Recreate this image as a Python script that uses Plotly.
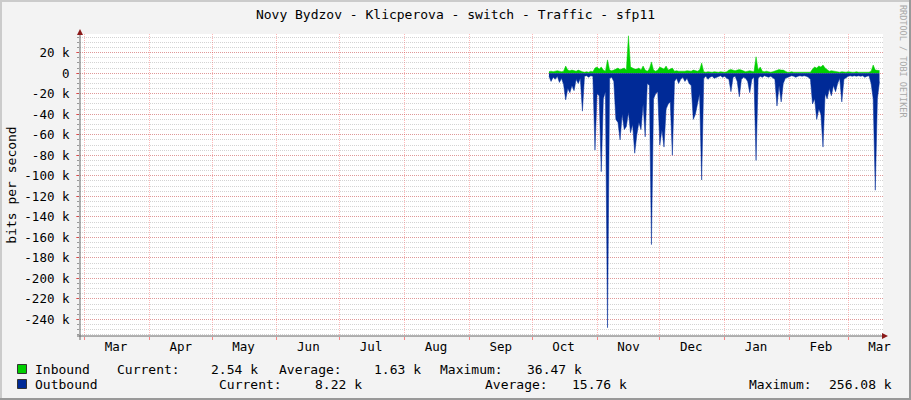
import pandas as pd
import plotly.graph_objects as go

# ---------------- data (k bits/s, one value per day from 2021-10-09) ----------------
start_day = "2021-10-09"
inbound_k = [
    1.5, 2, 1.5, 2, 2.5, 2, 1.5, 2, 7, 3,
    2.5, 3, 2.5, 2, 3, 2, 1.5, 1, 1.5, 1,
    2, 1.5, 5, 6, 4, 6, 3, 2, 13, 3,
    2.5, 3, 4, 5, 3.5, 4, 5, 3, 36.47, 6,
    5, 4, 4, 5, 3, 7, 3, 2, 4, 11,
    3, 2, 3, 6, 5, 4, 7, 3, 4, 5,
    2, 2.5, 2, 2, 1.5, 2, 2.5, 2, 2, 3,
    2.5, 2, 3, 10, 1.5, 1, 1.5, 1, 1, 1.5,
    1, 1, 1.5, 1, 1, 1.5, 3, 3.5, 3, 2.5,
    3, 3.5, 3, 2, 1.5, 2, 2.5, 2, 1.5, 16,
    3, 6, 2, 1.5, 2, 1.5, 1, 1.5, 2, 3,
    3.5, 3, 3, 2, 1, 1, 1.5, 1, 1, 1,
    1.5, 1, 1, 1, 1.5, 1, 4, 6, 5, 7,
    6, 8, 5, 3, 2, 2.5, 2, 1.5, 1.5, 1,
    1.5, 1, 1, 1.5, 1, 1, 1, 1.5, 1, 1,
    1, 1.5, 1, 1, 2, 8, 3, 3, 2.54,
]
outbound_k = [
    3, 8, 4, 6, 3, 9, 5, 11, 26, 15,
    19, 12, 17, 6, 10, 5, 37, 3, 2.5, 4,
    2.5, 3, 75, 20, 22, 96, 25, 18, 248, 5,
    4, 8, 45, 48, 65, 40, 55, 52, 38, 58,
    50, 78, 60, 48, 55, 30, 62, 10, 12, 167,
    25, 20, 18, 70, 55, 72, 35, 30, 28, 80,
    8, 5, 10, 6, 4, 8, 5, 10, 12, 45,
    40, 30, 20, 104, 5, 3, 6, 4, 3, 5,
    4, 3, 2.5, 4, 3, 5, 6, 18, 4, 3,
    8, 23, 6, 4, 5, 8, 19, 6, 4, 85,
    5, 3, 4, 2.5, 3, 4, 3, 5, 6, 32,
    12, 28, 10, 5, 4, 3, 2.5, 3, 4, 3,
    2.5, 3, 2.5, 3, 4, 6, 30, 25, 45, 35,
    40, 72, 20, 25, 15, 22, 12, 18, 10, 5,
    28, 6, 4, 3, 2.5, 3, 2.5, 3, 2.5, 3,
    2.5, 4, 3, 2.5, 10, 25, 114, 25, 8.22,
]

month_starts = ["2021-03-01", "2021-04-01", "2021-05-01", "2021-06-01", "2021-07-01",
                "2021-08-01", "2021-09-01", "2021-10-01", "2021-11-01", "2021-12-01",
                "2022-01-01", "2022-02-01", "2022-03-01"]
month_label_pos = ["2021-03-16", "2021-04-16", "2021-05-16", "2021-06-16", "2021-07-16",
                   "2021-08-16", "2021-09-16", "2021-10-16", "2021-11-16", "2021-12-16",
                   "2022-01-16", "2022-02-16", "2022-03-16"]
month_labels = ["Mar", "Apr", "May", "Jun", "Jul", "Aug", "Sep", "Oct", "Nov", "Dec",
                "Jan", "Feb", "Mar"]

y_tick_vals = [20000, 0, -20000, -40000, -60000, -80000, -100000, -120000, -140000,
               -160000, -180000, -200000, -220000, -240000]
y_tick_text = ["20 k", "0", "-20 k", "-40 k", "-60 k", "-80 k", "-100 k", "-120 k",
               "-140 k", "-160 k", "-180 k", "-200 k", "-220 k", "-240 k"]

series_names = ["Inbound", "Outbound"]
series_colors = ["#00CF00", "#002A97"]
stat_current = ["2.54 k", "8.22 k"]
stat_average = ["1.63 k", "15.76 k"]
stat_maximum = ["36.47 k", "256.08 k"]

title_text = "Novy Bydzov - Klicperova - switch - Traffic - sfp11"
y_title = "bits per second"

# ---------------- layout geometry ----------------
W, H = 911, 400
PL, PR, PT, PB = 80, 883, 34, 336
MONO = "DejaVu Sans Mono"


def fx(p):
    return (p - PL) / (PR - PL)


def fy(p):
    return (PB - p) / (PB - PT)


dates = pd.date_range(start_day, periods=len(inbound_k), freq="D")

fig = go.Figure()
fig.add_trace(go.Scatter(
    x=dates, y=[v * 1000 for v in inbound_k], mode="lines", fill="tozeroy",
    fillcolor=series_colors[0], line=dict(color=series_colors[0], width=0.5),
    showlegend=False, hoverinfo="skip"))
fig.add_trace(go.Scatter(
    x=dates, y=[-v * 1000 for v in outbound_k], mode="lines", fill="tozeroy",
    fillcolor=series_colors[1], line=dict(color=series_colors[1], width=0.5),
    showlegend=False, hoverinfo="skip"))

red_grid = "rgba(255,0,0,0.28)"
gray_grid = "rgba(130,130,130,0.35)"

fig.update_layout(
    width=W, height=H,
    margin=dict(l=PL, r=W - PR, t=PT, b=H - PB, pad=0, autoexpand=False),
    paper_bgcolor="#F3F3F3", plot_bgcolor="#FFFFFF",
    font=dict(family=MONO, size=12, color="#000000"),
    title=dict(text=title_text, x=0.5, xref="container", xanchor="center",
               y=1 - 14 / H, yref="container", yanchor="middle",
               font=dict(family=MONO, size=13, color="#000000")),
    xaxis=dict(
        type="date", range=["2021-02-26 20:00", "2022-03-17 16:24"],
        tickmode="array", tickvals=month_label_pos, ticktext=month_labels,
        showgrid=False, ticks="", zeroline=False, showline=False, automargin=False,
        tickfont=dict(family=MONO, size=12.5, color="#000000"),
        ticklabelstandoff=1,
        minor=dict(tickmode="array", tickvals=month_starts, showgrid=True,
                   gridcolor=red_grid, griddash="1px,1px", gridwidth=1,
                   ticks="outside", ticklen=3, tickcolor="rgba(255,0,0,0.45)"),
    ),
    yaxis=dict(
        range=[-256080, 38200], tickmode="array", tickvals=y_tick_vals,
        ticktext=y_tick_text, showgrid=True, gridcolor=red_grid,
        griddash="1px,1px", gridwidth=1, zeroline=False, showline=False,
        automargin=False,
        ticks="outside", ticklen=3, tickcolor="rgba(255,0,0,0.5)",
        tickfont=dict(family=MONO, size=12.5, color="#000000"),
        ticklabelstandoff=4,
        title=dict(text=y_title, font=dict(family=MONO, size=13, color="#000000"),
                   standoff=4),
        minor=dict(dtick=5000, tick0=0, showgrid=True, gridcolor=gray_grid,
                   griddash="1px,1px", gridwidth=1, ticks="outside", ticklen=2,
                   tickcolor="#999999"),
    ),
)

shapes = []
# axis lines
shapes.append(dict(type="line", xref="paper", yref="paper", x0=fx(PL), x1=fx(PL),
                   y0=fy(340), y1=fy(31), line=dict(color="#666666", width=1)))
shapes.append(dict(type="line", xref="paper", yref="paper", x0=fx(77), x1=fx(885),
                   y0=fy(PB), y1=fy(PB), line=dict(color="#666666", width=1)))
# arrows
shapes.append(dict(type="path", xref="paper", yref="paper",
                   path=f"M {fx(PL-3)} {fy(35)} L {fx(PL+3)} {fy(35)} L {fx(PL)} {fy(29)} Z",
                   fillcolor="#8B1A1A", line=dict(width=0)))
shapes.append(dict(type="path", xref="paper", yref="paper",
                   path=f"M {fx(882)} {fy(PB-3)} L {fx(882)} {fy(PB+3)} L {fx(888)} {fy(PB)} Z",
                   fillcolor="#8B1A1A", line=dict(width=0)))
# frame shading
shapes.append(dict(type="rect", xref="paper", yref="paper", x0=fx(0), x1=fx(W),
                   y0=fy(0), y1=fy(2), fillcolor="#CBCBCB", line=dict(width=0)))
shapes.append(dict(type="rect", xref="paper", yref="paper", x0=fx(0), x1=fx(2),
                   y0=fy(0), y1=fy(H), fillcolor="#CBCBCB", line=dict(width=0)))
shapes.append(dict(type="rect", xref="paper", yref="paper", x0=fx(0), x1=fx(W),
                   y0=fy(H - 2), y1=fy(H), fillcolor="#999999", line=dict(width=0)))
shapes.append(dict(type="rect", xref="paper", yref="paper", x0=fx(W - 2), x1=fx(W),
                   y0=fy(0), y1=fy(H), fillcolor="#999999", line=dict(width=0)))

annotations = []
row_y = [369, 384]
label_x = [[116.7, 279.3, 440.0], [219.3, 485.0, 749.3]]
value_end_x = [[258.0, 420.7, 581.7], [361.7, 626.7, 891.7]]
for i, name in enumerate(series_names):
    yc = row_y[i]
    shapes.append(dict(type="rect", xref="paper", yref="paper",
                       x0=fx(17.5), x1=fx(26.5), y0=fy(yc - 4.5), y1=fy(yc + 4.5),
                       fillcolor=series_colors[i], line=dict(color="#333333", width=1)))
    annotations.append(dict(text=name, x=fx(34.5), y=fy(yc), xref="paper", yref="paper",
                            xanchor="left", yanchor="middle", showarrow=False,
                            borderpad=0, borderwidth=0,
                            font=dict(family=MONO, size=13, color="#000000")))
    for lbl, lx, val, vx in zip(["Current:", "Average:", "Maximum:"], label_x[i],
                                [stat_current[i], stat_average[i], stat_maximum[i]],
                                value_end_x[i]):
        annotations.append(dict(text=lbl, x=fx(lx), y=fy(yc), xref="paper", yref="paper",
                                xanchor="left", yanchor="middle", showarrow=False,
                                borderpad=0, borderwidth=0,
                                font=dict(family=MONO, size=13, color="#000000")))
        annotations.append(dict(text=val, x=fx(vx), y=fy(yc), xref="paper", yref="paper",
                                xanchor="right", yanchor="middle", showarrow=False,
                                borderpad=0, borderwidth=0,
                                font=dict(family=MONO, size=13, color="#000000")))

annotations.append(dict(text="RRDTOOL / TOBI OETIKER", x=fx(903), y=fy(61),
                        xref="paper", yref="paper", xanchor="center", yanchor="middle",
                        textangle=90, showarrow=False, borderpad=0, borderwidth=0,
                        font=dict(family=MONO, size=8.5, color="#A8A8A8")))

fig.update_layout(shapes=shapes, annotations=annotations)
fig.write_html("out.html", config={"displayModeBar": False},
               post_script="document.body.style.margin='0px';document.body.style.overflow='hidden';")
